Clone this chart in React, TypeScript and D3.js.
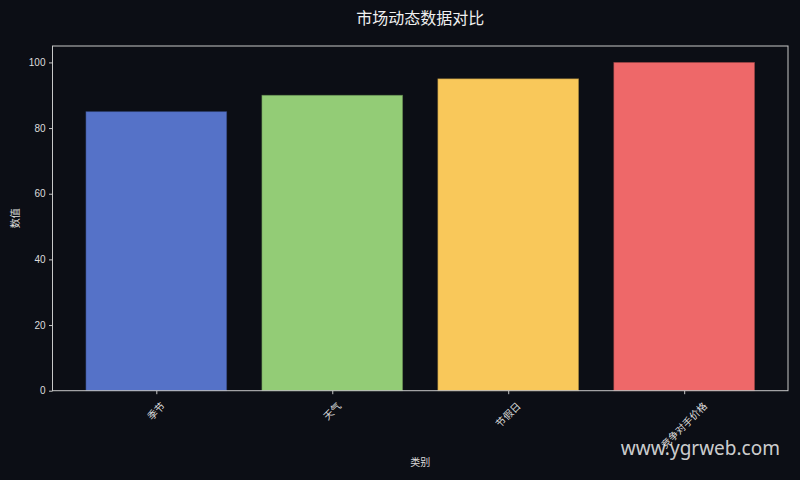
import * as d3 from "d3";
import { useEffect, useRef } from "react";

const categories = ["季节", "天气", "节假日", "竞争对手价格"];
const values = [85, 90, 95, 100];
const barColors = ["#5572c8", "#93cc76", "#f9c85a", "#ee6869"];
const yTicks = [0, 20, 40, 60, 80, 100];

const W = 800;
const H = 480;
const BG = "#0c0e15";
const FG = "#dcdcdc";
const FONT = "'Liberation Sans', 'Noto Sans CJK SC', sans-serif";

export default function App() {
  const ref = useRef<SVGSVGElement | null>(null);

  useEffect(() => {
    if (!ref.current) return;
    const svg = d3.select(ref.current);
    svg.selectAll("*").remove();

    const margin = { top: 46, right: 12, bottom: 89.3, left: 52.5 };
    const innerW = W - margin.left - margin.right;
    const innerH = H - margin.top - margin.bottom;

    svg.append("rect").attr("width", W).attr("height", H).attr("fill", BG);

    // matplotlib-like band: bar width 0.8, margins 0.05 of the data span
    const n = categories.length;
    const lo = -0.4 - 0.05 * (n - 0.2);
    const hi = n - 1 + 0.4 + 0.05 * (n - 0.2);
    const x = d3.scaleLinear().domain([lo, hi]).range([0, innerW]);
    const y = d3.scaleLinear().domain([0, 105]).range([innerH, 0]);

    const g = svg.append("g")
      .attr("transform", `translate(${margin.left},${margin.top})`);

    g.selectAll("rect.bar")
      .data(values)
      .enter()
      .append("rect")
      .attr("class", "bar")
      .attr("x", (_, i) => x(i - 0.4))
      .attr("width", x(0.4) - x(-0.4))
      .attr("y", d => y(d))
      .attr("height", d => y(0) - y(d))
      .attr("fill", (_, i) => barColors[i])
      .attr("stroke", (_, i) => d3.color(barColors[i])!.darker(1.2).formatHex())
      .attr("stroke-opacity", 0.6)
      .attr("stroke-width", 0.8);

    // frame
    g.append("rect")
      .attr("width", innerW)
      .attr("height", innerH)
      .attr("fill", "none")
      .attr("stroke", "#c8c8c8")
      .attr("stroke-width", 1);

    const yAxis = g.append("g").call(
      d3.axisLeft(y).tickValues(yTicks).tickSize(3.5).tickPadding(3.5)
    );
    yAxis.select(".domain").remove();
    yAxis.selectAll("line").attr("stroke", "#c8c8c8");
    yAxis.selectAll("text")
      .attr("fill", FG)
      .attr("font-size", 10)
      .attr("font-family", FONT);

    const xAxis = g.append("g")
      .attr("transform", `translate(0,${innerH})`)
      .call(
        d3.axisBottom(x)
          .tickValues(d3.range(n))
          .tickSize(3.5)
          .tickFormat(() => "")
      );
    xAxis.select(".domain").remove();
    xAxis.selectAll("line").attr("stroke", "#c8c8c8");

    // rotated labels, bbox centred under the tick
    const fs = 10;
    g.selectAll("text.xlab")
      .data(categories)
      .enter()
      .append("text")
      .attr("class", "xlab")
      .attr("transform", (d, i) => {
        const half = ((d.length * fs + fs) / Math.SQRT2) / 2;
        return `translate(${x(i)},${innerH + 10 + half}) rotate(-45)`;
      })
      .attr("text-anchor", "middle")
      .attr("dominant-baseline", "central")
      .attr("fill", FG)
      .attr("font-size", fs)
      .attr("font-family", FONT)
      .text(d => d);

    // titles
    svg.append("text")
      .attr("x", margin.left + innerW / 2)
      .attr("y", 24)
      .attr("text-anchor", "middle")
      .attr("fill", "#f0f0f0")
      .attr("font-size", 16)
      .attr("font-family", FONT)
      .text("市场动态数据对比");

    svg.append("text")
      .attr("x", margin.left + innerW / 2)
      .attr("y", 466)
      .attr("text-anchor", "middle")
      .attr("fill", FG)
      .attr("font-size", 10)
      .attr("font-family", FONT)
      .text("类别");

    svg.append("text")
      .attr("transform", `translate(19,${margin.top + innerH / 2}) rotate(-90)`)
      .attr("text-anchor", "middle")
      .attr("fill", FG)
      .attr("font-size", 10)
      .attr("font-family", FONT)
      .text("数值");

    // watermark
    svg.append("text")
      .attr("x", 780)
      .attr("y", 455)
      .attr("text-anchor", "end")
      .attr("fill", "#e6e6e6")
      .attr("fill-opacity", 0.9)
      .attr("font-size", 19)
      .attr("font-family", "'Noto Sans', 'Open Sans', sans-serif")
      .text("www.ygrweb.com");
  }, []);

  return (
    <svg
      ref={ref}
      width={W}
      height={H}
      style={{ position: "absolute", left: 0, top: 0, display: "block" }}
    />
  );
}
